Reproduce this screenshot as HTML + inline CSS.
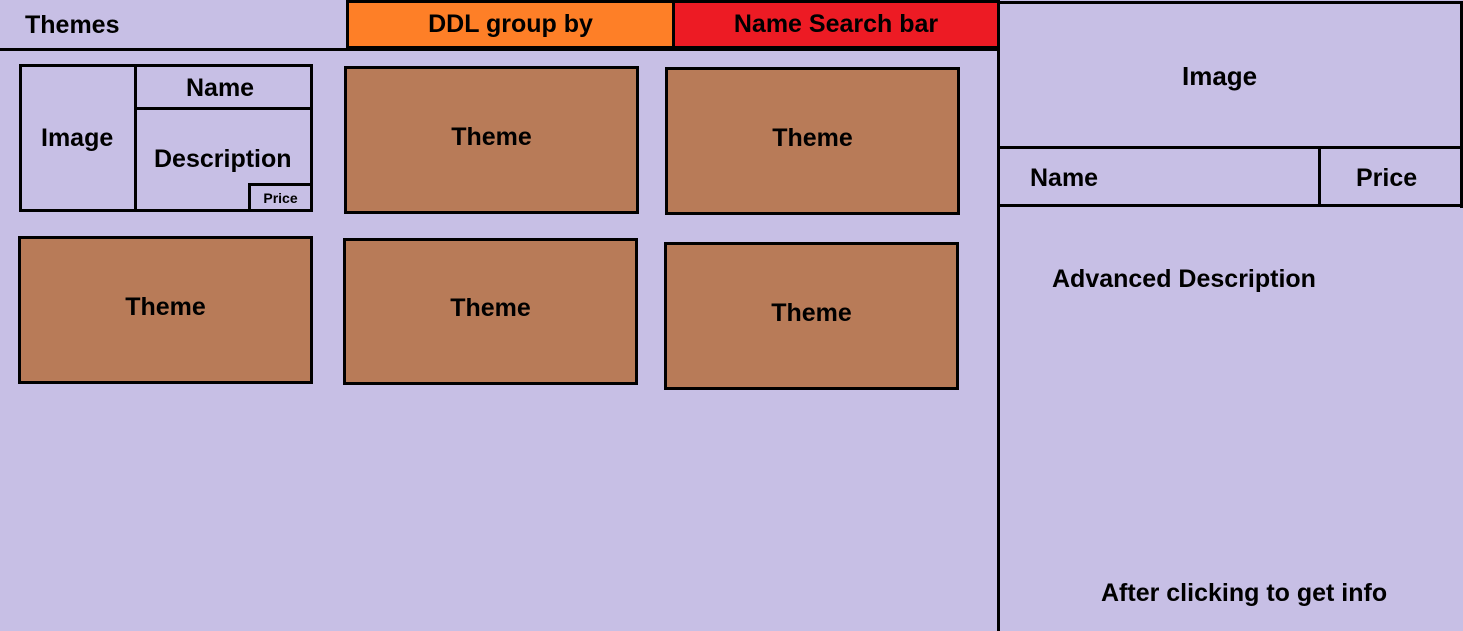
<!DOCTYPE html>
<html><head><style>
body{margin:0;width:1463px;height:631px;background:#c7bfe5;position:relative;overflow:hidden;font-family:"Liberation Sans",sans-serif;font-weight:bold;color:#000}
.b{position:absolute;box-sizing:border-box;border:3px solid #000;display:flex;align-items:center;justify-content:center;font-size:25px}
.t{background:#b87b58;padding-bottom:6px}
.l{position:absolute;background:#000}
.x{position:absolute;font-size:25px;white-space:nowrap}
</style></head><body>
<div class="l" style="left:0;top:48px;width:1000px;height:3px"></div>
<div class="x" style="left:25px;top:11px">Themes</div>
<div class="b" style="left:346px;top:0;width:329px;height:49px;background:#fe7f27">DDL group by</div>
<div class="b" style="left:672px;top:0;width:328px;height:49px;background:#ed1b24">Name Search bar</div>
<div class="l" style="left:997px;top:0;width:3px;height:631px"></div>
<div class="l" style="left:997px;top:1px;width:466px;height:3px"></div>
<div class="l" style="left:1460px;top:1px;width:3px;height:207px"></div>
<div class="l" style="left:997px;top:146px;width:466px;height:3px"></div>
<div class="l" style="left:997px;top:204px;width:466px;height:3px"></div>
<div class="l" style="left:1318px;top:146px;width:3px;height:61px"></div>
<div class="x" style="left:1182px;top:61px;font-size:26px">Image</div>
<div class="x" style="left:1030px;top:164px">Name</div>
<div class="x" style="left:1356px;top:164px">Price</div>
<div class="x" style="left:1052px;top:265px">Advanced Description</div>
<div class="x" style="left:1101px;top:579px">After clicking to get info</div>

<div class="b" style="left:19px;top:64px;width:294px;height:148px"></div>
<div class="l" style="left:134px;top:64px;width:3px;height:148px"></div>
<div class="l" style="left:134px;top:107px;width:179px;height:3px"></div>
<div class="b" style="left:248px;top:183px;width:65px;height:29px;font-size:14px">Price</div>
<div class="x" style="left:41px;top:124px">Image</div>
<div class="x" style="left:186px;top:74px">Name</div>
<div class="x" style="left:154px;top:145px">Description</div>

<div class="b t" style="left:344px;top:66px;width:295px;height:148px">Theme</div>
<div class="b t" style="left:665px;top:67px;width:295px;height:148px">Theme</div>
<div class="b t" style="left:18px;top:236px;width:295px;height:148px">Theme</div>
<div class="b t" style="left:343px;top:238px;width:295px;height:147px">Theme</div>
<div class="b t" style="left:664px;top:242px;width:295px;height:148px">Theme</div>
</body></html>
